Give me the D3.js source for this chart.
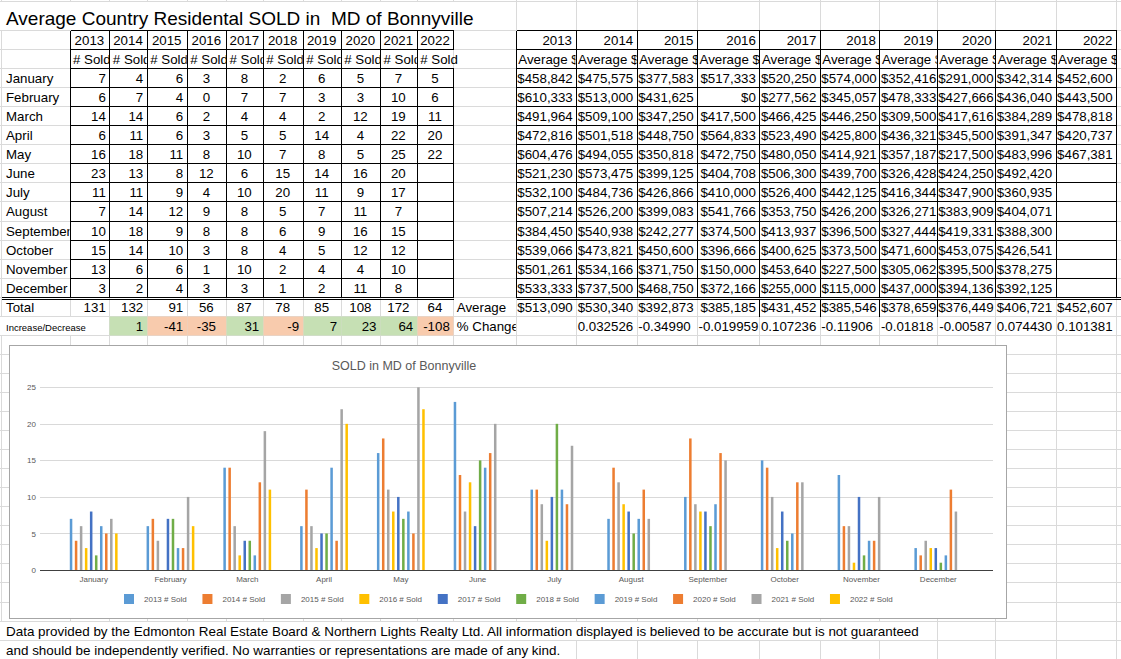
<!DOCTYPE html>
<html>
<head>
<meta charset="utf-8">
<script src="https://cdn.jsdelivr.net/npm/d3@7"></script>
<style>
  body { margin: 0; background: #fff; }
  svg { display: block; }
  text { font-family: "Liberation Sans", Arial, sans-serif; }
</style>
</head>
<body>
<div id="sheet"></div>
<script>
const months = ["January", "February", "March", "April", "May", "June", "July",
  "August", "September", "October", "November", "December"];
const years = ["2013", "2014", "2015", "2016", "2017", "2018", "2019", "2020", "2021", "2022"];

// # sold per month
const sold2013 = [7, 6, 14, 6, 16, 23, 11, 7, 10, 15, 13, 3];
const sold2014 = [4, 7, 14, 11, 18, 13, 11, 14, 18, 14, 6, 2];
const sold2015 = [6, 4, 6, 6, 11, 8, 9, 12, 9, 10, 6, 4];
const sold2016 = [3, 0, 2, 3, 8, 12, 4, 9, 8, 3, 1, 3];
const sold2017 = [8, 7, 4, 5, 10, 6, 10, 8, 8, 8, 10, 3];
const sold2018 = [2, 7, 4, 5, 7, 15, 20, 5, 6, 4, 2, 1];
const sold2019 = [6, 3, 2, 14, 8, 14, 11, 7, 9, 5, 4, 2];
const sold2020 = [5, 3, 12, 4, 5, 16, 9, 11, 16, 12, 4, 11];
const sold2021 = [7, 10, 19, 22, 25, 20, 17, 7, 15, 12, 10, 8];
const sold2022 = [5, 6, 11, 20, 22, null, null, null, null, null, null, null];
const soldTotals = [131, 132, 91, 56, 87, 78, 85, 108, 172, 64];
const soldChange = [null, 1, -41, -35, 31, -9, 7, 23, 64, -108];

// average $ per month
const avg2013 = [458842, 610333, 491964, 472816, 604476, 521230, 532100, 507214, 384450, 539066, 501261, 533333];
const avg2014 = [475575, 513000, 509100, 501518, 494055, 573475, 484736, 526200, 540938, 473821, 534166, 737500];
const avg2015 = [377583, 431625, 347250, 448750, 350818, 399125, 426866, 399083, 242277, 450600, 371750, 468750];
const avg2016 = [517333, 0, 417500, 564833, 472750, 404708, 410000, 541766, 374500, 396666, 150000, 372166];
const avg2017 = [520250, 277562, 466425, 523490, 480050, 506300, 526400, 353750, 413937, 400625, 453640, 255000];
const avg2018 = [574000, 345057, 446250, 425800, 414921, 439700, 442125, 426200, 396500, 373500, 227500, 115000];
const avg2019 = [352416, 478333, 309500, 436321, 357187, 326428, 416344, 326271, 327444, 471600, 305062, 437000];
const avg2020 = [291000, 427666, 417616, 345500, 217500, 424250, 347900, 383909, 419331, 453075, 395500, 394136];
const avg2021 = [342314, 436040, 384289, 391347, 483996, 492420, 360935, 404071, 388300, 426541, 378275, 392125];
const avg2022 = [452600, 443500, 478818, 420737, 467381, null, null, null, null, null, null, null];
const avgYear = [513090, 530340, 392873, 385185, 431452, 385546, 378659, 376449, 406721, 452607];
const pctChange = ["", "0.032526", "-0.3499023", "-0.0199591", "0.1072361", "-0.1190681",
  "-0.0181815", "-0.00587", "0.0744303", "0.1013817"];

const soldSeries = [sold2013, sold2014, sold2015, sold2016, sold2017, sold2018, sold2019, sold2020, sold2021, sold2022];
const avgSeries = [avg2013, avg2014, avg2015, avg2016, avg2017, avg2018, avg2019, avg2020, avg2021, avg2022];
const seriesColors = ["#5b9bd5", "#ed7d31", "#a5a5a5", "#ffc000", "#4472c4",
  "#70ad47", "#5b9bd5", "#ed7d31", "#a5a5a5", "#ffc000"];

const W = 1121, H = 659;
const FS = 13.3;
const colX = [0.5, 69.5, 109.3, 146.7, 186.7, 226, 262.7, 302.7, 340.7, 380, 416.7, 453.3,
  515.8, 575.5, 636.7, 697, 759.4, 819.8, 879.4, 936.7, 995.2, 1055.6, 1116, 1180];
const rowY = k => k === 0 ? 1 : 30 + 19.05 * (k - 1);
const px = v => Math.round(v) + 0.5;
const money = d3.format("$,.0f");

const svg = d3.select("#sheet").append("svg").attr("width", W).attr("height", H);
svg.append("rect").attr("width", W).attr("height", H).attr("fill", "#fff");

// sheet gridlines
const grid = svg.append("g").attr("stroke", "#dadada").attr("shape-rendering", "crispEdges");
grid.selectAll("line.v").data(colX).join("line").attr("class", "v")
  .attr("x1", d => px(d)).attr("x2", d => px(d)).attr("y1", 0).attr("y2", H);
grid.selectAll("line.h").data(d3.range(0, 36)).join("line").attr("class", "h")
  .attr("x1", 0).attr("x2", W).attr("y1", d => px(rowY(d))).attr("y2", d => px(rowY(d)));

// overflowing text hides the gridlines under it
function blank(x0, x1, r) {
  svg.append("rect").attr("x", px(x0) + 0.5).attr("y", px(rowY(r)) + 0.5)
    .attr("width", px(x1) - px(x0) - 1).attr("height", px(rowY(r + 1)) - px(rowY(r)) - 1)
    .attr("fill", "#fff");
}
blank(0, colX[12], 0);
blank(0, colX[2], 16);
blank(0, colX[19], 32);
blank(0, colX[13], 33);

// coloured increase / decrease cells
soldChange.forEach((v, i) => {
  if (v == null) return;
  svg.append("rect")
    .attr("x", px(colX[i + 1])).attr("y", px(rowY(16)))
    .attr("width", px(colX[i + 2]) - px(colX[i + 1])).attr("height", px(rowY(17)) - px(rowY(16)))
    .attr("fill", v >= 0 ? "#c6e0b4" : "#f8cbad");
});

function cellText(c0, c1, r, str, align, o = {}) {
  const x0 = colX[c0], x1 = colX[c1], y0 = rowY(r), y1 = rowY(r + 1);
  const w = x1 - x0;
  const host = o.overflow
    ? svg.append("g").attr("transform", `translate(${x0},${y0})`)
    : svg.append("svg").attr("x", x0).attr("y", y0).attr("width", w).attr("height", y1 - y0);
  const t = host.append("text")
    .attr("y", y1 - y0 - (o.base || 4))
    .attr("font-size", o.size || FS)
    .attr("fill", "#000")
    .text(str);
  if (align === "right") t.attr("x", w - 3.5).attr("text-anchor", "end");
  else if (align === "center") t.attr("x", w / 2).attr("text-anchor", "middle");
  else if (align === "fit") {
    // numbers too wide for the column get cut off at the cell edge
    const len = t.node().getComputedTextLength();
    if (len + 5 > w) {
      t.attr("x", 1.5);
      let s = str;
      while (s.length > 1 && t.node().getComputedTextLength() > w - 1.5) {
        s = s.slice(0, -1);
        t.text(s);
      }
    } else t.attr("x", w - 3.5).attr("text-anchor", "end");
  } else t.attr("x", o.pad != null ? o.pad : 3.5);
  return t;
}

// title
cellText(0, 12, 0, "Average Country Residental SOLD in  MD of Bonnyville", "left",
  { overflow: true, size: 19, pad: 5.5, base: 5 }).style("white-space", "pre");

// left table: # sold
const soldAlign = i => i < 3 ? "right" : "center";
years.forEach((y, i) => {
  cellText(i + 1, i + 2, 1, y, "center");
  cellText(i + 1, i + 2, 2, "# Sold", "left", { overflow: i === 9 });
  soldSeries[i].forEach((v, m) => {
    if (v != null) cellText(i + 1, i + 2, m + 3, String(v), soldAlign(i));
  });
  cellText(i + 1, i + 2, 15, String(soldTotals[i]), soldAlign(i));
  if (soldChange[i] != null) cellText(i + 1, i + 2, 16, String(soldChange[i]), i === 3 ? "center" : "right");
});
months.forEach((m, k) => cellText(0, 1, k + 3, m, "left", { pad: 5.5 }));
cellText(0, 1, 15, "Total", "left", { pad: 5.5 });
cellText(0, 1, 16, "Increase/Decrease", "left", { pad: 5.5, size: 9.5, overflow: true });
cellText(11, 12, 15, "Average", "left");
cellText(11, 12, 16, "% Change", "left");

// right table: average $
years.forEach((y, i) => {
  const c = i + 12;
  cellText(c, c + 1, 1, y, "right");
  cellText(c, c + 1, 2, "Average $", "left", { pad: 2.5 });
  avgSeries[i].forEach((v, m) => {
    if (v != null) cellText(c, c + 1, m + 3, money(v), "fit");
  });
  cellText(c, c + 1, 15, money(avgYear[i]), "fit");
  if (pctChange[i]) cellText(c, c + 1, 16, pctChange[i], "fit");
});

// footnote
cellText(0, 1, 32, "Data provided by the Edmonton Real Estate Board & Northern Lights Realty Ltd. All information displayed is believed to be accurate but is not guaranteed",
  "left", { overflow: true, pad: 5.5, size: 13.45 });
cellText(0, 1, 33, "and should be independently verified. No warranties or representations are made of any kind.",
  "left", { overflow: true, pad: 5.5, size: 13.45 });

// black borders
const bd = svg.append("g").attr("stroke", "#000").attr("shape-rendering", "crispEdges");
const hline = (x0, x1, y) => bd.append("line").attr("x1", px(x0)).attr("x2", px(x1)).attr("y1", px(y)).attr("y2", px(y));
const vline = (x, y0, y1) => bd.append("line").attr("x1", px(x)).attr("x2", px(x)).attr("y1", px(y0)).attr("y2", px(y1));

d3.range(1, 15).forEach(r => {
  hline(colX[1], colX[11], rowY(r));
  hline(colX[12], colX[22], rowY(r));
});
d3.range(1, 12).forEach(c => {
  if (c === 11) {
    vline(colX[c], rowY(1), rowY(2));
    vline(colX[c], rowY(3), rowY(15));
  } else vline(colX[c], rowY(1), rowY(15));
});
d3.range(12, 23).forEach(c => vline(colX[c], rowY(1), rowY(15)));
hline(colX[0], colX[11], rowY(15));
hline(colX[0], colX[11], rowY(15) + 2.5);
hline(colX[12], W, rowY(15));
hline(colX[12], W, rowY(15) + 2.5);
[16, 17, 18, 19].forEach(c => vline(colX[c], rowY(15) + 2.5, rowY(16)));

// ---- embedded chart ----
const chart = svg.append("g");
chart.append("rect").attr("x", 9.5).attr("y", 345.5).attr("width", 997).attr("height", 273)
  .attr("fill", "#fff").attr("stroke", "#a6a6a6");

const plotL = 40, plotR = 993;
const x0 = d3.scaleBand().domain(months).range([55.3, 976.7]);
const groupW = 47.8;
const x1 = d3.scaleBand().domain(years).range([0, groupW]).paddingInner(0.5);
const y = d3.scaleLinear().domain([0, 25]).range([570, 387.3]);

const yAxis = chart.append("g").attr("transform", `translate(${plotL},0)`)
  .call(d3.axisLeft(y).tickValues([0, 5, 10, 15, 20, 25]).tickSize(-(plotR - plotL)).tickPadding(4));
yAxis.select(".domain").remove();
yAxis.selectAll(".tick line").attr("stroke", "#d9d9d9").attr("shape-rendering", "crispEdges");
yAxis.selectAll(".tick text").attr("fill", "#595959").attr("font-size", 8)
  .attr("font-family", "Liberation Sans, Arial, sans-serif");

const bars = chart.append("g");
years.forEach((yr, i) => {
  bars.append("g").attr("fill", seriesColors[i])
    .selectAll("rect")
    .data(months.map((m, k) => ({ m, v: soldSeries[i][k] })).filter(d => d.v != null && d.v > 0))
    .join("rect")
    .attr("x", d => x0(d.m) + (x0.bandwidth() - groupW) / 2 + x1(yr))
    .attr("width", x1.bandwidth())
    .attr("y", d => y(d.v))
    .attr("height", d => y(0) - y(d.v));
});

chart.append("line").attr("x1", plotL).attr("x2", plotR)
  .attr("y1", px(y(0))).attr("y2", px(y(0)))
  .attr("stroke", "#404040").attr("shape-rendering", "crispEdges");

const xAxis = chart.append("g").attr("transform", `translate(0,${y(0)})`)
  .call(d3.axisBottom(x0).tickSize(0).tickPadding(6.5));
xAxis.select(".domain").remove();
xAxis.selectAll(".tick text").attr("fill", "#595959").attr("font-size", 8)
  .attr("font-family", "Liberation Sans, Arial, sans-serif");

chart.append("text").attr("x", 404).attr("y", 366).attr("text-anchor", "middle")
  .attr("dominant-baseline", "central").attr("font-size", 12.5).attr("fill", "#595959")
  .text("SOLD in MD of Bonnyville");

const legend = chart.append("g").selectAll("g").data(years).join("g")
  .attr("transform", (d, i) => `translate(${124 + i * 78.44},594)`);
legend.append("rect").attr("width", 10).attr("height", 10).attr("fill", (d, i) => seriesColors[i]);
legend.append("text").attr("x", 20).attr("y", 5).attr("dominant-baseline", "central")
  .attr("font-size", 8).attr("fill", "#595959").text(d => d + " # Sold");
</script>
</body>
</html>
